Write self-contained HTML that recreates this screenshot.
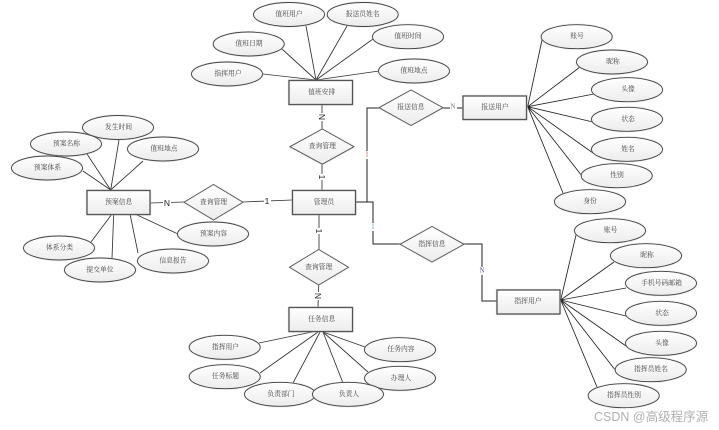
<!DOCTYPE html>
<html><head><meta charset="utf-8"><style>
html,body{margin:0;padding:0;background:#fff;width:719px;height:430px;overflow:hidden}
svg{display:block;filter:blur(.3px)}
.s{fill:url(#g);stroke:#444;stroke-width:.9;filter:drop-shadow(.7px .7px .4px #bbb)}
.b{fill:url(#g);stroke:#555;stroke-width:1.3;filter:drop-shadow(.7px .7px .4px #bbb)}
.d{fill:url(#g);stroke:#555;stroke-width:.9;filter:drop-shadow(.7px .7px .4px #ccc)}
.l path{fill:none;stroke:#333;stroke-width:.85}
text{font-family:"Liberation Serif","Noto Serif CJK SC",serif;font-size:6.8px;fill:#444;text-anchor:middle;dominant-baseline:central}
.n{font-family:"Liberation Sans",sans-serif;font-size:8.5px;fill:#222}
.w{font-family:"Liberation Sans","Noto Sans CJK SC",sans-serif;font-size:12.5px;fill:#b0b0b0;text-anchor:start}
</style></head><body>
<svg width="719" height="430" viewBox="0 0 719 430" xmlns="http://www.w3.org/2000/svg">
<defs><linearGradient id="g" x1="0" y1="0" x2="0" y2="1"><stop offset="0" stop-color="#fff"/><stop offset="1" stop-color="#ececec"/></linearGradient></defs>
<g class="l">
<path d="M263 74L316 80M282 49L316 80M306 26L316 80M347 26L316 80M373 39L316 80M379 71L316 80"/>
<path d="M322 104V129M322 164V190"/>
<path style="stroke-width:1;stroke:#222" d="M355.700 202H373V244H400M367 202V108H379"/>
<path style="stroke-width:1;stroke:#222" d="M443 108H463M464 244H482V301H497"/>
<path d="M150 203L184 202M243 202L292 200"/>
<path d="M319 214V250M318.700 285L318 307"/>
<path d="M87 154L110.700 190M83 171L110.700 190M119 140L110.700 190M143 161L110.700 190M91 242L112 214M112 258L113.700 214M138 253L130 214M178 234L135 214"/>
<path d="M259 343L316.700 331M260 373L318 332M293 383L320 332M343 383L323 332M368 372L323 332M365 347L323 332"/>
<path style="stroke:#222" d="M527.700 106.700L542 40M527.700 106.700L580 67M527.700 106.700L594 94M527.700 106.700L593 122M527.700 106.700L593 153M527.700 106.700L582 176M527.700 106.700L563 193"/>
<path style="stroke:#222" d="M560.700 300L576 235M560.700 300L614 262M560.700 300L626 288M560.700 300L626 316M560.700 300L626 346M560.700 300L616 371M560.700 300L597 387"/>
</g>
<rect fill="#fff" x="317" y="113" width="10" height="8"/><text class="n" transform="rotate(90 322 117)" x="322" y="117">N</text>
<rect fill="#fff" x="317" y="174" width="10" height="6"/><text class="n" transform="rotate(90 322 177)" x="322" y="177">1</text>
<rect fill="#fff" x="314" y="228" width="10" height="6"/><text class="n" transform="rotate(90 319 231)" x="319" y="231">1</text>
<rect fill="#fff" x="313" y="292" width="10" height="8"/><text class="n" transform="rotate(90 318 296)" x="318" y="296">N</text>
<rect fill="#fff" x="163" y="198" width="8" height="9"/><text class="n" x="167" y="203">N</text>
<rect fill="#fff" x="264" y="197" width="7" height="9"/><text class="n" x="267" y="201">1</text>
<rect fill="#fff" x="365" y="151" width="4" height="8"/><text x="367" y="155" style="fill:#a66">1</text>
<rect fill="#fff" x="371" y="223" width="4" height="8"/><text x="373" y="227" style="fill:#6aa">1</text>
<rect fill="#fff" x="450" y="104" width="7" height="7"/><text x="453" y="107" style="fill:#777">N</text>
<rect fill="#fff" x="479" y="267" width="6" height="8"/><text x="482" y="271" style="fill:#558">N</text>

<rect class="b" x="289" y="80.500" width="63.500" height="24"/><text x="321.700" y="92.500">值班安排</text>
<rect class="b" x="292.500" y="190.500" width="63" height="24"/><text x="324" y="202.500">管理员</text>
<rect class="b" x="87" y="190.500" width="63" height="24"/><text x="118.700" y="202.500">预案信息</text>
<rect class="b" x="289" y="307.500" width="63.500" height="24"/><text x="321.700" y="319.500">任务信息</text>
<rect class="b" x="463" y="96" width="63.500" height="23.500"/><text x="495" y="107.500">报送用户</text>
<rect class="b" x="497" y="290" width="63" height="24"/><text x="528" y="301.500">指挥用户</text>

<polygon class="d" points="290,146.700 322.300,129 354,146.700 322.300,164.200"/><text x="322.300" y="146.700">查询管理</text>
<polygon class="d" points="379,107.700 411,90 443,107.700 411,125.500"/><text x="411" y="107.700">报送信息</text>
<polygon class="d" points="184,202.300 213.500,184.500 243,202.300 213.500,220"/><text x="213.500" y="202.300">查询管理</text>
<polygon class="d" points="289.500,267.300 318.700,249.500 348.500,267.300 318.700,285"/><text x="318.700" y="267.300">查询管理</text>
<polygon class="d" points="400,244.300 432,226.500 464,244.300 432,262"/><text x="432" y="244.300">指挥信息</text>

<ellipse class="s" cx="289" cy="14.500" rx="35.500" ry="12"/><text x="289" y="14.500">值班用户</text>
<ellipse class="s" cx="362.700" cy="14.500" rx="35.500" ry="12"/><text x="362.700" y="14.500">报送员姓名</text>
<ellipse class="s" cx="408" cy="36.700" rx="35.500" ry="12"/><text x="408" y="36.700">值班时间</text>
<ellipse class="s" cx="248.700" cy="44" rx="35.500" ry="12"/><text x="249" y="44">值班日期</text>
<ellipse class="s" cx="227" cy="74" rx="35.500" ry="12"/><text x="228" y="74">指挥用户</text>
<ellipse class="s" cx="414" cy="71" rx="35.500" ry="12"/><text x="414" y="71">值班地点</text>

<ellipse class="s" cx="118" cy="127.500" rx="35.500" ry="12"/><text x="118.500" y="127.500">发生时间</text>
<ellipse class="s" cx="66" cy="144" rx="35.500" ry="12"/><text x="66.500" y="144">预案名称</text>
<ellipse class="s" cx="163" cy="149" rx="35.500" ry="12"/><text x="164" y="149">值班地点</text>
<ellipse class="s" cx="47" cy="168" rx="35.500" ry="12"/><text x="47.500" y="168">预案体系</text>
<ellipse class="s" cx="213" cy="234" rx="35.500" ry="12"/><text x="213.500" y="234">预案内容</text>
<ellipse class="s" cx="173" cy="261" rx="35.500" ry="12"/><text x="173" y="261">信息报告</text>
<ellipse class="s" cx="59" cy="248" rx="35.500" ry="12"/><text x="59.500" y="248">体系分类</text>
<ellipse class="s" cx="100" cy="270" rx="35.500" ry="12"/><text x="100" y="270">提交单位</text>

<ellipse class="s" cx="224.700" cy="347.300" rx="35.500" ry="12"/><text x="225.500" y="347.300">指挥用户</text>
<ellipse class="s" cx="400" cy="349.700" rx="35.500" ry="12"/><text x="401" y="349.700">任务内容</text>
<ellipse class="s" cx="224.700" cy="376.700" rx="35.500" ry="12"/><text x="225.500" y="376.700">任务标题</text>
<ellipse class="s" cx="400" cy="378.300" rx="35.500" ry="12"/><text x="401" y="378.300">办理人</text>
<ellipse class="s" cx="280" cy="394.300" rx="35.500" ry="12"/><text x="281" y="394.300">负责部门</text>
<ellipse class="s" cx="348" cy="394.300" rx="35.500" ry="12"/><text x="349" y="394.300">负责人</text>

<ellipse class="s" cx="576.700" cy="36.700" rx="35.500" ry="12"/><text x="577" y="36.700">账号</text>
<ellipse class="s" cx="612" cy="62" rx="35.500" ry="12"/><text x="613" y="62">昵称</text>
<ellipse class="s" cx="627" cy="89.700" rx="35.500" ry="12"/><text x="628" y="89.700">头像</text>
<ellipse class="s" cx="627" cy="119.300" rx="35.500" ry="12"/><text x="628" y="119.300">状态</text>
<ellipse class="s" cx="627" cy="149.300" rx="35.500" ry="12"/><text x="628" y="149.300">姓名</text>
<ellipse class="s" cx="616.700" cy="175.700" rx="35.500" ry="12"/><text x="617" y="175.700">性别</text>
<ellipse class="s" cx="590" cy="201.700" rx="35.500" ry="12"/><text x="590" y="201.700">身份</text>

<ellipse class="s" cx="610" cy="230.700" rx="35.500" ry="12"/><text x="610.500" y="230.700">账号</text>
<ellipse class="s" cx="646" cy="255.700" rx="35.500" ry="12"/><text x="647" y="255.700">昵称</text>
<ellipse class="s" cx="661" cy="283.300" rx="35.500" ry="12"/><text x="661.500" y="283.300">手机号码邮箱</text>
<ellipse class="s" cx="661" cy="313.300" rx="35.500" ry="12"/><text x="662" y="313.300">状态</text>
<ellipse class="s" cx="661" cy="343.300" rx="35.500" ry="12"/><text x="662" y="343.300">头像</text>
<ellipse class="s" cx="650.700" cy="369.700" rx="35.500" ry="12"/><text x="651" y="369.700">指挥员姓名</text>
<ellipse class="s" cx="623.700" cy="395.700" rx="35.500" ry="12"/><text x="624" y="395.700">指挥员性别</text>

<text class="w" x="594" y="417">CSDN @高级程序源</text>
</svg>
</body></html>
